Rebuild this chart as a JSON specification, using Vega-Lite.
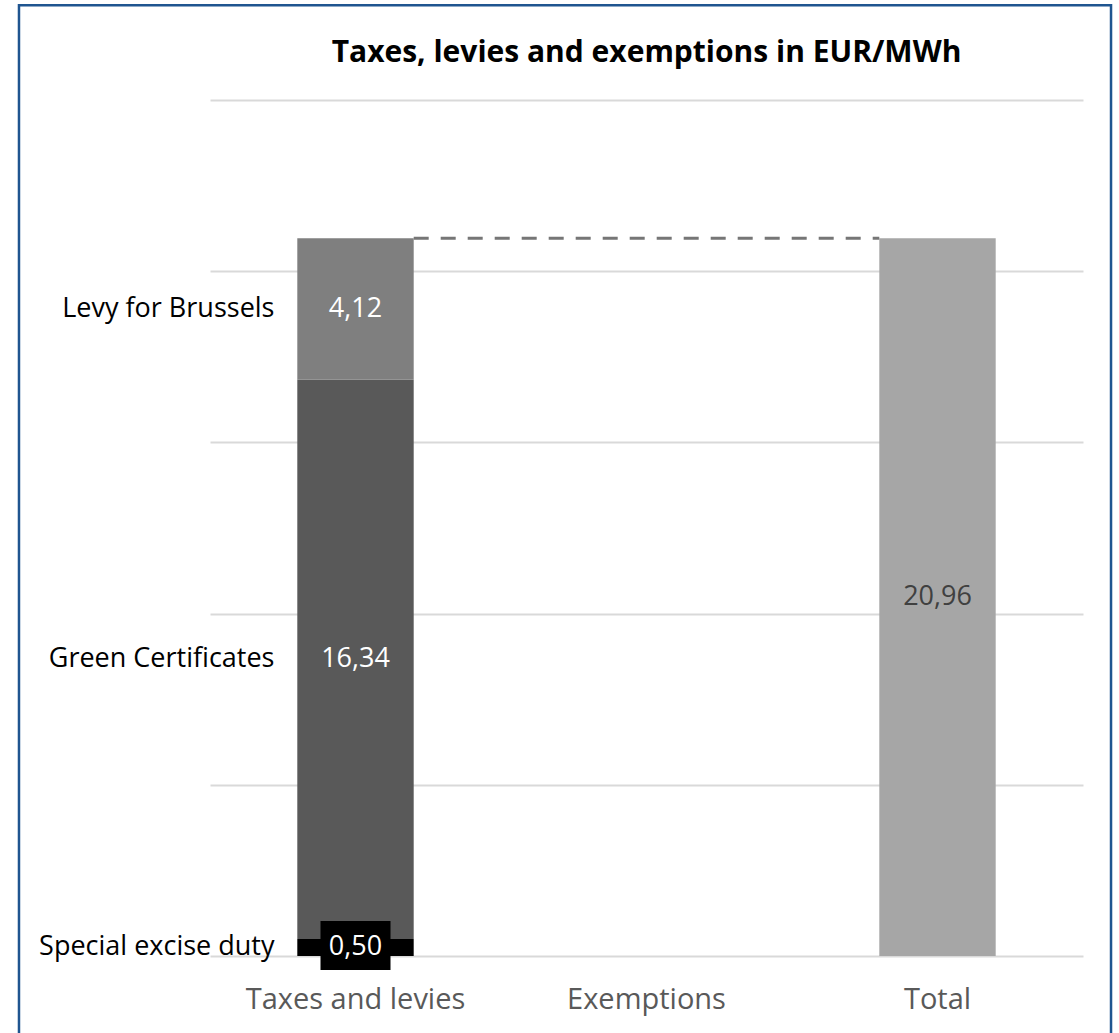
{
  "$schema": "https://vega.github.io/schema/vega-lite/v6.json",
  "width": 873,
  "height": 856,
  "autosize": {"type": "none"},
  "padding": {"left": 210, "top": 100, "right": 36, "bottom": 77},
  "background": "white",
  "title": {
    "text": "Taxes, levies and exemptions in EUR/MWh",
    "font": "Open Sans",
    "fontSize": 30,
    "fontWeight": "bold",
    "color": "#000000",
    "anchor": "middle",
    "offset": -64
  },
  "config": {
    "view": {"stroke": null},
    "font": "Open Sans"
  },
  "datasets": {
    "segments": [
      {"category": "Taxes and levies", "component": "Special excise duty", "start": 0, "end": 0.5, "label": "0,50"},
      {"category": "Taxes and levies", "component": "Green Certificates", "start": 0.5, "end": 16.84, "label": "16,34"},
      {"category": "Taxes and levies", "component": "Levy for Brussels", "start": 16.84, "end": 20.96, "label": "4,12"},
      {"category": "Total", "component": "Total", "start": 0, "end": 20.96, "label": "20,96"}
    ],
    "connector": [
      {"from": "Taxes and levies", "to": "Total", "level": 20.96}
    ],
    "frame": [
      {"left": -0.2188, "right": 1.0321, "top": 27.77, "bottom": -3}
    ]
  },
  "layer": [
    {
      "data": {"name": "frame"},
      "mark": {"type": "rect", "fill": null, "stroke": "#1f5590", "strokeWidth": 2.5, "clip": false},
      "encoding": {
        "x": {"field": "left", "type": "quantitative", "scale": {"domain": [0, 1], "nice": false, "zero": false}, "axis": null},
        "x2": {"field": "right"},
        "y": {
          "field": "top",
          "type": "quantitative",
          "scale": {"domain": [0, 25], "nice": false},
          "axis": {
            "title": null,
            "values": [0, 5, 10, 15, 20, 25],
            "labels": false,
            "ticks": false,
            "domain": false,
            "grid": true,
            "gridColor": "#d9d9d9",
            "gridWidth": 2
          }
        },
        "y2": {"field": "bottom"}
      }
    },
    {
      "layer": [
        {
          "data": {"name": "segments"},
          "mark": {"type": "bar"},
          "encoding": {
            "x": {
              "field": "category",
              "type": "nominal",
              "scale": {"domain": ["Taxes and levies", "Exemptions", "Total"], "paddingInner": 0.6, "paddingOuter": 0.3},
              "sort": null,
              "axis": {
                "title": null,
                "labelAngle": 0,
                "labelFontSize": 29,
                "labelColor": "#595959",
                "labelPadding": 29,
                "labelLimit": 500,
                "domain": false,
                "ticks": false,
                "labelFont": "Open Sans"
              }
            },
            "y": {
              "field": "start",
              "type": "quantitative",
              "scale": {"domain": [0, 25], "nice": false},
              "axis": {
                "title": null,
                "values": [0, 5, 10, 15, 20, 25],
                "labels": false,
                "ticks": false,
                "domain": false,
                "grid": true,
                "gridColor": "#d9d9d9",
                "gridWidth": 2
              }
            },
            "y2": {"field": "end"},
            "color": {
              "field": "component",
              "type": "nominal",
              "scale": {
                "domain": ["Special excise duty", "Green Certificates", "Levy for Brussels", "Total"],
                "range": ["#000000", "#595959", "#7f7f7f", "#a6a6a6"]
              },
              "legend": null
            }
          }
        },
        {
          "data": {"name": "connector"},
          "mark": {"type": "rule", "color": "#767676", "strokeWidth": 3, "strokeDash": [15, 12]},
          "encoding": {
            "x": {"field": "from", "type": "nominal", "bandPosition": 1},
            "x2": {"field": "to", "bandPosition": 0},
            "y": {"field": "level", "type": "quantitative"}
          }
        },
        {
          "data": {"name": "segments"},
          "transform": [{"filter": "datum.component === 'Special excise duty'"}],
          "mark": {"type": "bar", "color": "#000000", "width": 70},
          "encoding": {
            "x": {"field": "category", "type": "nominal"},
            "y": {"datum": 1.02},
            "y2": {"datum": -0.41}
          }
        },
        {
          "data": {"name": "segments"},
          "transform": [{"calculate": "(datum.start + datum.end) / 2", "as": "mid"}],
          "mark": {"type": "text", "fontSize": 27, "font": "Open Sans", "baseline": "middle"},
          "encoding": {
            "x": {"field": "category", "type": "nominal"},
            "y": {"field": "mid", "type": "quantitative"},
            "text": {"field": "label"},
            "color": {
              "condition": {"test": "datum.category === 'Total'", "value": "#404040"},
              "value": "#ffffff"
            }
          }
        },
        {
          "data": {"name": "segments"},
          "transform": [
            {"filter": "datum.category === 'Taxes and levies'"},
            {"calculate": "(datum.start + datum.end) / 2", "as": "mid"}
          ],
          "mark": {"type": "text", "fontSize": 27, "font": "Open Sans", "baseline": "middle", "align": "right", "dx": -81, "color": "#000000"},
          "encoding": {
            "x": {"field": "category", "type": "nominal"},
            "y": {"field": "mid", "type": "quantitative"},
            "text": {"field": "component"}
          }
        }
      ]
    }
  ],
  "resolve": {"scale": {"x": "independent"}}
}
